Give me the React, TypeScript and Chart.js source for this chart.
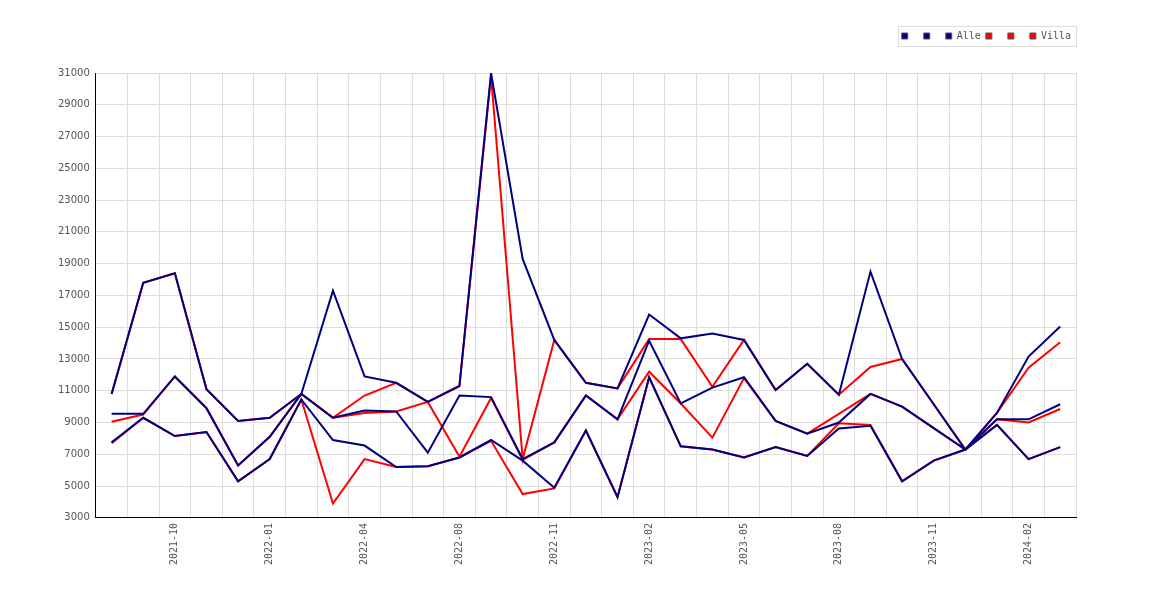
import { useEffect, useRef } from "react"
import { Chart, registerables, type ChartConfiguration, type Plugin } from "chart.js"

Chart.register(...registerables)

// monthly categories (2022-06 is missing in the source)
const months = [
  "2021-08", "2021-09", "2021-10", "2021-11", "2021-12",
  "2022-01", "2022-02", "2022-03", "2022-04", "2022-05",
  "2022-07", "2022-08", "2022-09", "2022-10", "2022-11",
  "2022-12", "2023-01", "2023-02", "2023-03", "2023-04",
  "2023-05", "2023-06", "2023-07", "2023-08", "2023-09",
  "2023-10", "2023-11", "2023-12", "2024-01", "2024-02",
  "2024-03",
]

const alleMax = [
  10800, 17800, 18400, 11100, 9100, 9300, 10800, 17300, 11900, 11500,
  10300, 11300, 31000, 19300, 14200, 11500, 11150, 15800, 14300, 14600,
  14200, 11050, 12700, 10750, 18500, 13000, 10150, 7300, 9600, 13150,
  15050,
]
const alleMid = [
  9550, 9550, 11900, 9900, 6300, 8100, 10800, 9300, 9750, 9700,
  7100, 10700, 10600, 6700, 7750, 10700, 9200, 14150, 10200, 11200,
  11850, 9100, 8300, 9000, 10800, 10000, 8650, 7300, 9200, 9200,
  10150,
]
const alleMin = [
  7750, 9300, 8150, 8400, 5300, 6700, 10450, 7900, 7550, 6200,
  6250, 6800, 7900, 6600, 4900, 8500, 4300, 11850, 7500, 7300,
  6800, 7450, 6900, 8630, 8800, 5300, 6600, 7300, 8850, 6700,
  7450,
]

const villaMax = [
  10800, 17800, 18400, 11100, 9100, 9300, 10800, 9300, 10700, 11500,
  10300, 11300, 30800, 6700, 14200, 11500, 11150, 14250, 14250, 11250,
  14200, 11050, 12700, 10750, 12500, 13000, 10150, 7300, 9600, 12450,
  14050,
]
const villaMid = [
  9050, 9500, 11900, 9900, 6300, 8100, 10800, 9300, 9600, 9700,
  10300, 6850, 10550, 6650, 7750, 10700, 9200, 12200, 10200, 8050,
  11800, 9100, 8300, 9550, 10800, 10000, 8650, 7300, 9200, 9000,
  9850,
]
const villaMin = [
  7700, 9300, 8150, 8400, 5300, 6700, 10450, 3900, 6700, 6200,
  6250, 6800, 7850, 4500, 4850, 8500, 4300, 11850, 7500, 7300,
  6800, 7450, 6900, 8950, 8850, 5300, 6600, 7300, 8850, 6700,
  7450,
]

const yTicks = { min: 3000, max: 31000, step: 2000 }

const NAVY = "#000080"
const RED = "#ff0000"
const TEXT = "#555555"
const GRID = "#dddddd"

// thin grey frame around the legend row
const legendFrame: Plugin<"line"> = {
  id: "legendFrame",
  afterDraw(chart) {
    const legend: any = chart.legend
    if (!legend || !legend.legendHitBoxes || !legend.legendHitBoxes.length) return
    const hb = legend.legendHitBoxes
    const left = Math.min(...hb.map((b: any) => b.left)) - 4
    const right = legend.right
    const top = legend.top
    const ctx = chart.ctx
    ctx.save()
    ctx.strokeStyle = GRID
    ctx.lineWidth = 1
    ctx.strokeRect(Math.round(left) + 0.5, Math.round(top) + 0.5, Math.round(right - left), 20)
    ctx.restore()
  },
}

function line(label: string, data: number[], color: string) {
  return {
    label,
    data,
    borderColor: color,
    backgroundColor: color,
    borderWidth: 2,
    pointRadius: 0,
    tension: 0,
    fill: false,
  }
}

export default function App() {
  const canvasRef = useRef<HTMLCanvasElement | null>(null)

  useEffect(() => {
    if (!canvasRef.current) return

    const config: ChartConfiguration<"line"> = {
      type: "line",
      data: {
        labels: months,
        datasets: [
          line(" ", alleMax, NAVY),
          line(" ", alleMid, NAVY),
          line("Alle", alleMin, NAVY),
          line(" ", villaMax, RED),
          line(" ", villaMid, RED),
          line("Villa", villaMin, RED),
        ],
      },
      options: {
        responsive: true,
        maintainAspectRatio: false,
        animation: false,
        layout: { padding: { top: 26, right: 94, bottom: 30, left: 52 } },
        plugins: {
          // empty block that keeps a gap between legend and plot
          title: { display: true, text: "", weight: 500, padding: 0, font: { size: 22, lineHeight: 1 } } as any,
          legend: {
            position: "top",
            align: "end",
            labels: {
              boxWidth: 6,
              boxHeight: 6,
              padding: 5,
              color: TEXT,
              font: { family: "DejaVu Sans Mono", size: 10 },
              generateLabels: (chart) =>
                Chart.defaults.plugins.legend.labels
                  .generateLabels(chart)
                  .map((l) => ({ ...l, strokeStyle: "#555555", lineWidth: 1 })),
            },
          },
          tooltip: { enabled: false },
        },
        scales: {
          x: {
            type: "category",
            offset: true,
            grid: { color: GRID, offset: true, drawTicks: false },
            border: { color: "#000000", width: 1 },
            ticks: {
              autoSkip: false,
              minRotation: 90,
              maxRotation: 90,
              padding: 5,
              color: TEXT,
              font: { family: "DejaVu Sans Mono", size: 10 },
              callback: (_v, i) => (i % 3 === 2 ? months[i] : ""),
            },
          },
          y: {
            min: yTicks.min,
            max: yTicks.max,
            grid: { color: GRID, drawTicks: false },
            border: { color: "#000000", width: 1 },
            ticks: {
              stepSize: yTicks.step,
              padding: 6,
              color: TEXT,
              font: { family: "DejaVu Sans", size: 10 },
              callback: (v) => String(v),
            },
          },
        },
      },
      plugins: [legendFrame],
    }

    const chart = new Chart(canvasRef.current, config)
    return () => chart.destroy()
  }, [])

  return (
    <div style={{ position: "fixed", left: 0, top: 0, width: 1170, height: 600, background: "#fff" }}>
      <canvas ref={canvasRef} />
    </div>
  )
}
